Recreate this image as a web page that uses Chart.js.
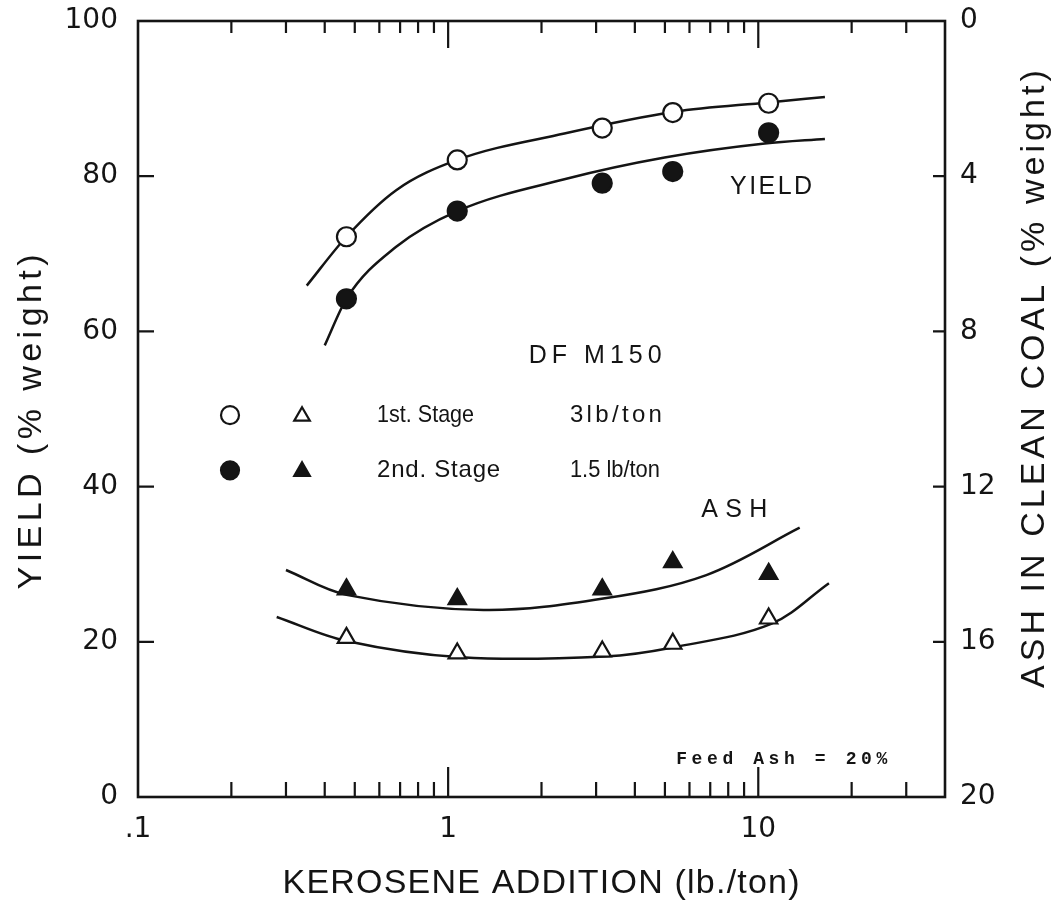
<!DOCTYPE html>
<html><head><meta charset="utf-8">
<script src="https://cdn.jsdelivr.net/npm/chart.js@4/dist/chart.umd.min.js"></script>
<style>html,body{margin:0;padding:0;background:#fff}#wrap{width:1058px;height:908px;position:relative}</style>
</head><body><div id="wrap"><canvas id="c" width="1058" height="908"></canvas></div>
<script>
// ---- data ----
const kerosene = [0.47, 1.07, 3.14, 5.3, 10.8];          // lb/ton
const yield1st = [72.2, 82.1, 86.2, 88.2, 89.4];          // % weight (open circles)
const yield2nd = [64.2, 75.5, 79.1, 80.6, 85.6];          // % weight (filled circles)
const ash1st   = [15.9, 16.3, 16.25, 16.05, 15.4];        // % ash (open triangles)
const ash2nd   = [14.65, 14.9, 14.65, 13.95, 14.25];      // % ash (filled triangles)

// hand-drawn fitted curves
const fitYield1X = [0.35, 0.47, 0.68, 1.07, 2.37, 5.37, 10.75, 16.4];
const fitYield1Y = [65.9, 72.2, 78.2, 82.1, 85.5, 88.3, 89.5, 90.2];
const fitYield2X = [0.40, 0.47, 0.68, 1.07, 2.37, 4.99, 10.5, 16.4];
const fitYield2Y = [58.2, 64.2, 70.9, 75.5, 79.6, 82.4, 84.2, 84.8];
const fitAsh1X = [0.28, 0.47, 1.1, 3.2, 5.35, 11.0, 16.9];
const fitAsh1Y = [15.36, 15.98, 16.40, 16.38, 16.14, 15.54, 14.49];
const fitAsh2X = [0.30, 0.47, 1.3, 3.2, 6.8, 13.6];
const fitAsh2Y = [14.15, 14.79, 15.18, 14.88, 14.28, 13.06];

// axes
const xTickValues = [0.1,0.2,0.3,0.4,0.5,0.6,0.7,0.8,0.9,1,2,3,4,5,6,7,8,9,10,20,30,40];
const xTickLabels = {"0.1": ".1", "1": "1", "10": "10"};
const yieldTicks = [0, 20, 40, 60, 80, 100];
const ashTicks = [0, 4, 8, 12, 16, 20];

// ---- drawing ----
const INK = '#141414';
const pts = (xs, ys) => xs.map((x, i) => ({x, y: ys[i]}));

function fitText(ctx, text, x, y, font, width) {
  ctx.save();
  ctx.font = font;
  ctx.textBaseline = 'middle';
  ctx.textAlign = 'left';
  ctx.fillStyle = INK;
  const w = ctx.measureText(text).width;
  const left = x - width / 2;
  if (w < width && text.length > 1) {
    const sp = (width - w) / (text.length - 1);
    ctx.letterSpacing = sp.toFixed(2) + 'px';
    ctx.fillText(text, left, y);
  } else {
    ctx.fillText(text, left, y, width);
  }
  ctx.restore();
}
function fitTextLeft(ctx, text, x, y, font, width) { fitText(ctx, text, x + width / 2, y, font, width); }

function marker(ctx, style, filled, x, y, r) {
  ctx.save();
  ctx.beginPath();
  if (style === 'circle') ctx.arc(x, y, r, 0, Math.PI * 2);
  else {
    for (let k = 0; k < 3; k++) {
      const a = k * 2 * Math.PI / 3;
      const px = x + Math.sin(a) * r, py = y - Math.cos(a) * r;
      k ? ctx.lineTo(px, py) : ctx.moveTo(px, py);
    }
    ctx.closePath();
  }
  ctx.fillStyle = filled ? INK : '#fff';
  ctx.fill();
  ctx.lineWidth = 2.2; ctx.strokeStyle = INK; ctx.stroke();
  ctx.restore();
}

const SANS = "'Liberation Sans', Arial, sans-serif";
const notes = [
  {text: 'YIELD',   x: 11.0, y: 78.6, size: 25, width: 82},
  {text: 'DF M150', x: 2.98, y: 56.8, size: 25, width: 133},
  {text: 'ASH',     x: 8.37, y: 37.0, size: 25, width: 66},
];
const legendRows = [
  {y: 49.2, filled: false, label: '1st. Stage', rate: '3lb/ton', lw: 97, rw: 92},
  {y: 42.1, filled: true,  label: '2nd. Stage', rate: '1.5 lb/ton', lw: 123, rw: 90},
];

const decor = {
  id: 'decor',
  afterDraw(chart) {
    const {ctx, chartArea: a, scales} = chart;
    const sx = scales.x, sy = scales.y, sr = scales.yR;
    ctx.save();
    ctx.strokeStyle = INK;
    ctx.lineWidth = 2.6;
    ctx.strokeRect(a.left, a.top, a.right - a.left, a.bottom - a.top);
    ctx.lineWidth = 2.2;
    ctx.beginPath();
    sx.ticks.forEach(t => {
      if (t.value <= sx.min * 1.0001 || t.value >= sx.max * 0.9999) return;
      const px = sx.getPixelForValue(t.value);
      const lg = Math.log10(t.value);
      const major = Math.abs(lg - Math.round(lg)) < 1e-9;
      ctx.moveTo(px, a.bottom); ctx.lineTo(px, a.bottom - (major ? 30 : 15));
      ctx.moveTo(px, a.top); ctx.lineTo(px, a.top + (major ? 27 : 12));
    });
    sy.ticks.forEach(t => {
      if (t.value <= sy.min || t.value >= sy.max) return;
      const py = sy.getPixelForValue(t.value);
      ctx.moveTo(a.left, py); ctx.lineTo(a.left + 16, py);
    });
    sr.ticks.forEach(t => {
      if (t.value <= sr.min || t.value >= sr.max) return;
      const py = sr.getPixelForValue(t.value);
      ctx.moveTo(a.right, py); ctx.lineTo(a.right - 12, py);
    });
    ctx.stroke();

    notes.forEach(n => fitText(ctx, n.text, sx.getPixelForValue(n.x), sy.getPixelForValue(n.y),
      n.size + 'px ' + SANS, n.width));
    fitText(ctx, 'Feed Ash = 20%', sx.getPixelForValue(11.9), sy.getPixelForValue(4.8),
      "bold 18px 'Liberation Mono', 'DejaVu Sans Mono', monospace", 211);

    legendRows.forEach(r => {
      const py = sy.getPixelForValue(r.y);
      marker(ctx, 'circle', r.filled, sx.getPixelForValue(0.198), py, 9);
      marker(ctx, 'triangle', r.filled, sx.getPixelForValue(0.338), py + 1, 9);
      fitTextLeft(ctx, r.label, sx.getPixelForValue(0.59), py, '24px ' + SANS, r.lw);
      fitTextLeft(ctx, r.rate, sx.getPixelForValue(2.47), py, '24px ' + SANS, r.rw);
    });

    fitText(ctx, 'KEROSENE ADDITION (lb./ton)', 541, 884, '34px ' + SANS, 517);
    ctx.save(); ctx.translate(32, 422); ctx.rotate(-Math.PI / 2);
    fitText(ctx, 'YIELD (% weight)', 0, 0, '34px ' + SANS, 335);
    ctx.restore();
    ctx.save(); ctx.translate(1035, 379); ctx.rotate(-Math.PI / 2);
    fitText(ctx, 'ASH IN CLEAN COAL (% weight)', 0, 0, '34px ' + SANS, 618);
    ctx.restore();
    ctx.restore();
  }
};

const pointSet = (label, ys, axis, style, filled) => ({
  label, data: pts(kerosene, ys), yAxisID: axis, showLine: false,
  pointStyle: style, pointRadius: style === 'circle' ? 9.5 : 10, pointHoverRadius: 10,
  pointBackgroundColor: filled ? INK : '#fff', pointBorderColor: INK, pointBorderWidth: 2.2,
  order: 0
});
const curveSet = (label, xs, ys, axis, mono) => Object.assign({
  label, data: pts(xs, ys), yAxisID: axis, showLine: true, pointRadius: 0, pointHoverRadius: 0,
  borderColor: INK, borderWidth: 2.5, tension: 0.35, fill: false, order: 1
}, mono ? {cubicInterpolationMode: 'monotone'} : {});

Chart.defaults.font.family = "'DejaVu Sans', sans-serif";
Chart.defaults.color = INK;

const noPadV = s => { s.paddingTop = 0; s.paddingBottom = 0; };

new Chart(document.getElementById('c'), {
  type: 'scatter',
  data: {
    datasets: [
      curveSet('fit yield 1st', fitYield1X, fitYield1Y, 'y', true),
      curveSet('fit yield 2nd', fitYield2X, fitYield2Y, 'y', true),
      curveSet('fit ash 1st', fitAsh1X, fitAsh1Y, 'yR', false),
      curveSet('fit ash 2nd', fitAsh2X, fitAsh2Y, 'yR', false),
      pointSet('Yield 1st Stage', yield1st, 'y', 'circle', false),
      pointSet('Yield 2nd Stage', yield2nd, 'y', 'circle', true),
      pointSet('Ash 1st Stage', ash1st, 'yR', 'triangle', false),
      pointSet('Ash 2nd Stage', ash2nd, 'yR', 'triangle', true),
    ]
  },
  options: {
    responsive: false,
    animation: false,
    layout: {padding: {top: 21, left: 0, right: 0, bottom: 0}},
    plugins: {legend: {display: false}, tooltip: {enabled: false}},
    scales: {
      x: {
        type: 'logarithmic', position: 'bottom', min: 0.1, max: 40,
        afterBuildTicks: s => { s.ticks = xTickValues.map(v => ({value: v, major: false})); },
        afterFit: s => { s.height = 111; s.paddingLeft = 0; s.paddingRight = 0; },
        grid: {display: false, drawTicks: false},
        border: {display: false},
        ticks: {
          autoSkip: false, maxRotation: 0, padding: 16,
          font: {size: 28},
          callback: v => xTickLabels[String(+(+v).toPrecision(6))] || ''
        }
      },
      y: {
        position: 'left', min: 0, max: 100,
        afterBuildTicks: s => { s.ticks = yieldTicks.map(v => ({value: v})); },
        afterFit: s => { s.width = 138; noPadV(s); },
        grid: {display: false, drawTicks: false},
        border: {display: false},
        ticks: {padding: 20, font: {size: 28}}
      },
      yR: {
        position: 'right', min: 0, max: 20, reverse: true,
        afterBuildTicks: s => { s.ticks = ashTicks.map(v => ({value: v})); },
        afterFit: s => { s.width = 113; noPadV(s); },
        grid: {display: false, drawTicks: false},
        border: {display: false},
        ticks: {padding: 15, font: {size: 28}}
      }
    }
  },
  plugins: [decor]
});
</script>
</body></html>
